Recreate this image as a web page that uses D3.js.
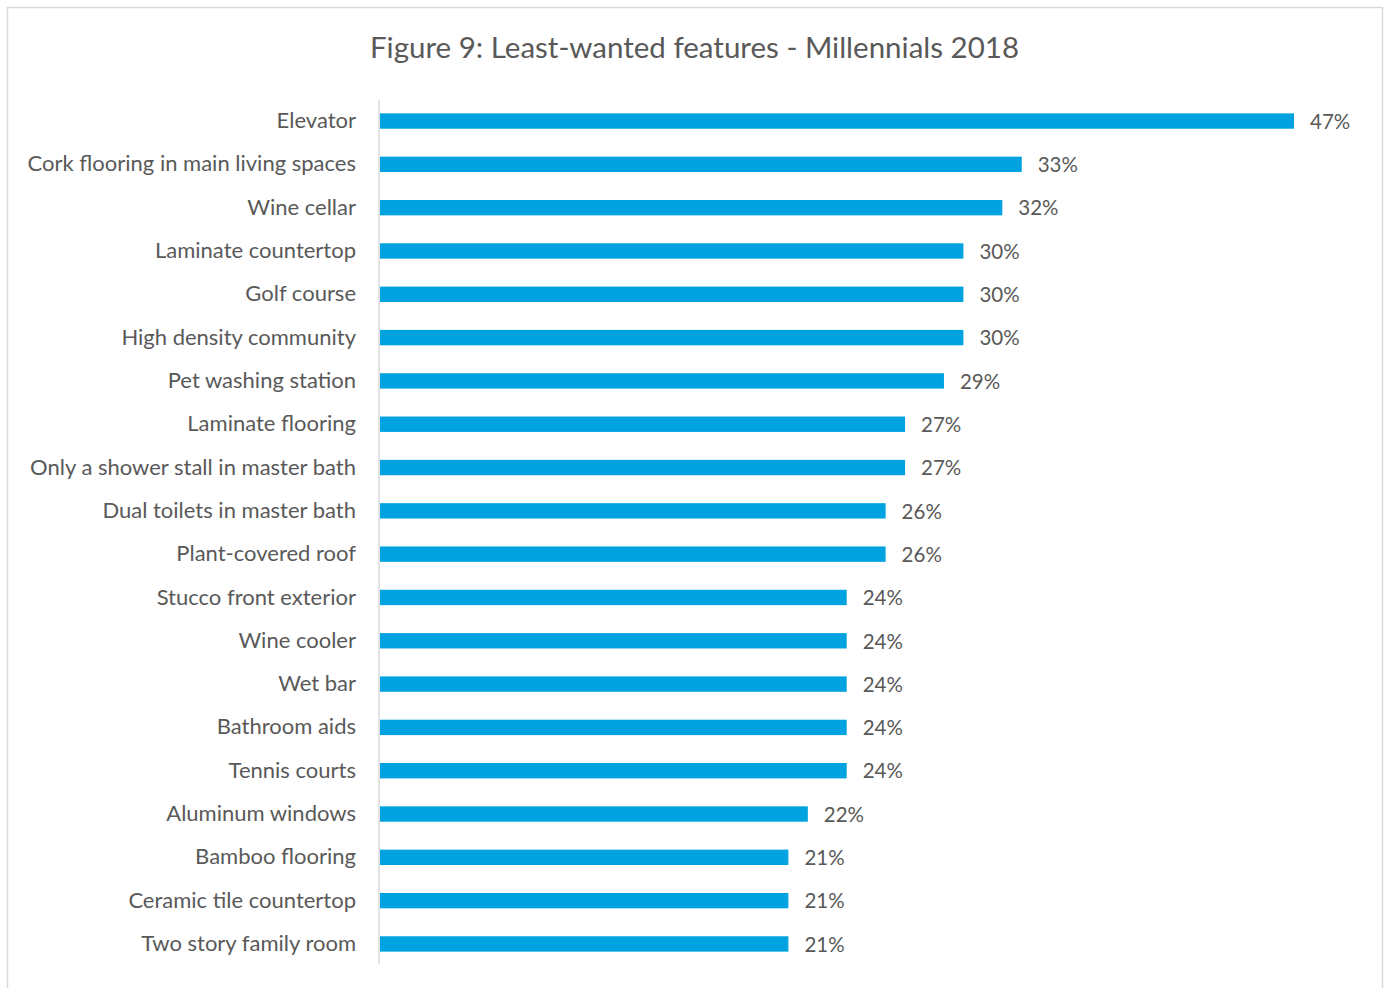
<!DOCTYPE html>
<html>
<head>
<meta charset="utf-8">
<script src="https://cdn.jsdelivr.net/npm/d3@7"></script>
<style>
  html, body { margin: 0; padding: 0; background: #ffffff; }
  svg { display: block; }
</style>
</head>
<body>
<svg id="chart" width="1386" height="988"></svg>
<script>
// Least-wanted home features among Millennials, 2018 (share of respondents, %)
const features = [
  "Elevator",
  "Cork flooring in main living spaces",
  "Wine cellar",
  "Laminate countertop",
  "Golf course",
  "High density community",
  "Pet washing station",
  "Laminate flooring",
  "Only a shower stall in master bath",
  "Dual toilets in master bath",
  "Plant-covered roof",
  "Stucco front exterior",
  "Wine cooler",
  "Wet bar",
  "Bathroom aids",
  "Tennis courts",
  "Aluminum windows",
  "Bamboo flooring",
  "Ceramic tile countertop",
  "Two story family room"
];
const shares = [47, 33, 32, 30, 30, 30, 29, 27, 27, 26, 26, 24, 24, 24, 24, 24, 22, 21, 21, 21];
const chartTitle = "Figure 9: Least-wanted features - Millennials 2018";

const svg = d3.select("#chart");
const font = "Lato, 'Open Sans', sans-serif";
const textColor = "#595959";
const barColor = "#00a3df";

// outer frame
svg.append("rect")
  .attr("x", 7.5).attr("y", 7.5)
  .attr("width", 1375).attr("height", 1000)
  .attr("fill", "#ffffff")
  .attr("stroke", "#d9d9d9").attr("stroke-width", 1.5);

// title
svg.append("text")
  .attr("x", 694.5).attr("y", 58)
  .attr("text-anchor", "middle")
  .attr("font-family", font)
  .attr("font-size", 29.5)
  .attr("fill", textColor)
  .text(chartTitle);

const plot = { left: 379, top: 99.5, bottom: 965.5 };

const x = d3.scaleLinear().domain([0, 47]).range([plot.left + 1, 1294]);
const y = d3.scaleBand().domain(features)
  .range([plot.top, plot.bottom])
  .paddingInner(0.645).paddingOuter(0.32);

// category axis (labels only, baseline line drawn separately)
const yAxis = d3.axisLeft(y).tickSize(0).tickPadding(23);
const gy = svg.append("g").attr("transform", `translate(${plot.left},0)`).call(yAxis);
gy.select(".domain").remove();
gy.selectAll("text")
  .attr("font-family", font)
  .attr("font-size", 22)
  .attr("fill", textColor);

// bars
svg.append("g").selectAll("rect")
  .data(features)
  .join("rect")
  .attr("x", x(0))
  .attr("y", d => y(d))
  .attr("width", (d, i) => x(shares[i]) - x(0))
  .attr("height", y.bandwidth())
  .attr("fill", barColor);

// value labels
svg.append("g").selectAll("text")
  .data(features)
  .join("text")
  .attr("x", (d, i) => x(shares[i]) + 16)
  .attr("y", d => y(d) + y.bandwidth() / 2)
  .attr("dy", "0.38em")
  .attr("font-family", font)
  .attr("font-size", 20.5)
  .attr("fill", textColor)
  .text((d, i) => shares[i] + "%");

// vertical category axis line
svg.append("line")
  .attr("x1", plot.left).attr("x2", plot.left)
  .attr("y1", plot.top).attr("y2", plot.bottom - 1)
  .attr("stroke", "#d9d9d9").attr("stroke-width", 1.5);
</script>
</body>
</html>
